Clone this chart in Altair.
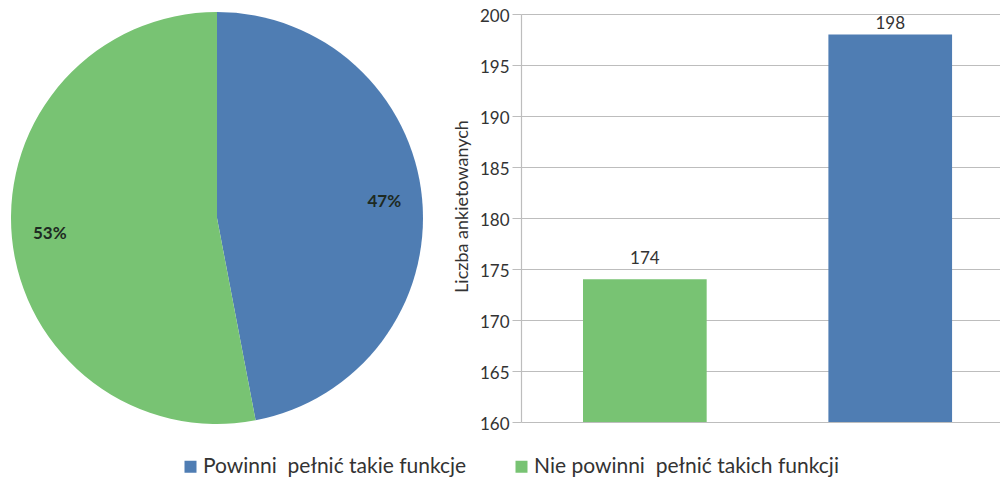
import altair as alt
import pandas as pd

# Category names (double gap kept with a no-break space)
groups = ["Powinni\u00a0 pełnić takie funkcje", "Nie powinni\u00a0 pełnić takich funkcji"]
colors = ["#4F7DB3", "#78C373"]

# Pie shares in percent, same order as groups
pie_share = [47, 53]
# Respondent counts for the bar panel, same order as groups
bar_count = [198, 174]
# Order of bars along the x axis
bar_order = [groups[1], groups[0]]

FONT = "Lato"

pie_df = pd.DataFrame({
    "group": groups,
    "share": pie_share,
    "ord": list(range(len(groups))),
})
pie_df["label"] = pie_df["share"].astype(str) + "%"

bar_df = pd.DataFrame({"group": groups, "count": bar_count})

color = alt.Color(
    "group:N",
    scale=alt.Scale(domain=groups, range=colors),
    legend=alt.Legend(
        title=None,
        orient="none",
        direction="horizontal",
        legendX=170,
        legendY=442,
        padding=0,
        symbolType="square",
        symbolSize=144,
        symbolStrokeWidth=0,
        labelFont=FONT,
        labelFontSize=21,
        labelLimit=0,
        labelColor="#333333",
        columnPadding=44,
        labelOffset=2,
    ),
)

pie_base = alt.Chart(pie_df).encode(
    theta=alt.Theta("share:Q", stack=True),
    order=alt.Order("ord:Q"),
)
pie = alt.layer(
    pie_base.mark_arc(outerRadius=206).encode(color=color),
    pie_base.mark_text(radius=168, font=FONT, fontSize=17, fontWeight="bold", color="#1E2A22").encode(
        text="label:N"
    ),
).properties(width=414, height=408)

# Labels are kept inside the plot area near the top
bar_base = alt.Chart(bar_df).transform_calculate(label_y="min(datum.count, 197.1)")
x_enc = alt.X(
    "group:N",
    sort=bar_order,
    axis=None,
    scale=alt.Scale(paddingInner=0.496, paddingOuter=0.224, align=0.564),
)
bars = bar_base.mark_bar().encode(
    x=x_enc,
    y=alt.Y(
        "count:Q",
        scale=alt.Scale(domain=[160, 200], zero=False, nice=False),
        axis=alt.Axis(
            title="Liczba ankietowanych",
            values=list(range(160, 201, 5)),
            grid=True,
            gridColor="#BDBDBD",
            gridWidth=1.2,
            domainColor="#BDBDBD",
            domainWidth=1.2,
            tickColor="#BDBDBD",
            tickSize=9,
            labelPadding=3,
            labelOffset=2,
            labelFont=FONT,
            labelFontSize=17,
            labelColor="#333333",
            titleFont=FONT,
            titleFontSize=18,
            titleFontWeight="normal",
            titleColor="#333333",
            titleX=-59,
            titleY=192,
            titleBaseline="middle",
        ),
    ),
    y2=alt.datum(160),
    color=color,
)
bar_labels = bar_base.mark_text(font=FONT, fontSize=17, color="#333333", baseline="alphabetic", dy=-15).encode(
    x=x_enc,
    y=alt.Y("label_y:Q"),
    text="count:Q",
)
bar = alt.layer(bars, bar_labels).properties(width=479, height=408)

chart = (
    alt.hconcat(pie, bar, spacing=97, bounds="flush")
    .properties(padding={"left": 10, "top": 7, "right": 0, "bottom": 0}, background="white")
    .configure_view(stroke=None)
)

chart.save("out.html", embed_options={"renderer": "svg", "actions": False})
